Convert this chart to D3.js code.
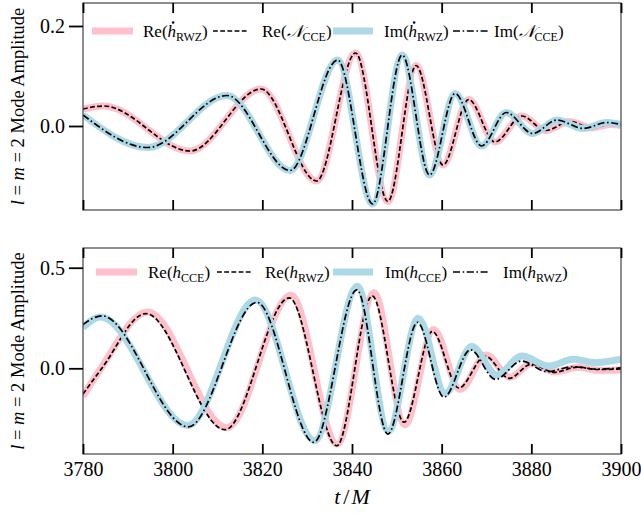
<!DOCTYPE html>
<html>
<head>
<meta charset="utf-8">
<script src="https://cdn.jsdelivr.net/npm/d3@7"></script>
<style>
  body { margin: 0; background: #fff; }
  svg text { font-family: "Liberation Serif", "DejaVu Serif", serif; fill: #000; }
</style>
</head>
<body>
<div id="chart"></div>
<script>
const w = 641;
const h = 514;
const left = 83, right = 621;

const xTicks = [3780, 3800, 3820, 3840, 3860, 3880, 3900];
const topYTicks = [0.0, 0.2];
const bottomYTicks = [0.0, 0.5];

// top panel, [t/M, amplitude]
const reHdotRWZ = [
  [3780, 0.034], [3784.6, 0.040], [3803.9, -0.050], [3819.7, 0.074],
  [3832.1, -0.110], [3840.8, 0.146], [3848.0, -0.151], [3854.3, 0.121],
  [3860.3, -0.078], [3866.0, 0.053], [3871.9, -0.032], [3877.9, 0.020],
  [3883.2, -0.009], [3888.6, 0.009], [3893.5, -0.004], [3897.5, 0.003],
  [3900, 0.001]
];
const reNewsCCE = [
  [3780, 0.034], [3784.6, 0.040], [3803.9, -0.050], [3819.7, 0.074],
  [3832.1, -0.110], [3840.8, 0.146], [3848.0, -0.151], [3854.3, 0.121],
  [3860.3, -0.078], [3866.0, 0.053], [3871.9, -0.032], [3877.9, 0.020],
  [3883.2, -0.009], [3888.6, 0.009], [3893.5, -0.004], [3897.5, 0.003],
  [3900, 0.001]
];
const imHdotRWZ = [
  [3780, 0.022], [3794.5, -0.043], [3812.1, 0.061], [3826.2, -0.089],
  [3836.8, 0.132], [3844.6, -0.156], [3851.2, 0.142], [3857.3, -0.098],
  [3863.0, 0.065], [3868.9, -0.040], [3874.4, 0.027], [3880.3, -0.015],
  [3885.7, 0.012], [3891.6, -0.005], [3896.8, 0.007], [3900, 0.003]
];
const imNewsCCE = [
  [3780, 0.022], [3794.5, -0.043], [3812.1, 0.061], [3826.2, -0.089],
  [3836.8, 0.132], [3844.6, -0.156], [3851.2, 0.142], [3857.3, -0.098],
  [3863.0, 0.065], [3868.9, -0.040], [3874.4, 0.027], [3880.3, -0.015],
  [3885.7, 0.012], [3891.6, -0.005], [3896.8, 0.007], [3900, 0.003]
];

// bottom panel
const reHCCE = [
  [3780, -0.140], [3784.0, 0.0], [3794.4, 0.280], [3812.1, -0.295],
  [3826.4, 0.363], [3836.7, -0.377], [3844.9, 0.375], [3851.8, -0.280],
  [3858.2, 0.193], [3864.1, -0.105], [3869.9, 0.066], [3875.3, -0.045],
  [3880.1, 0.025], [3885.3, -0.018], [3890.5, 0.005], [3895.0, -0.010],
  [3900, -0.008]
];
const reHRWZ = [
  [3780, -0.128], [3784.2, 0.0], [3794.0, 0.272], [3811.7, -0.305],
  [3826.0, 0.350], [3836.6, -0.385], [3844.5, 0.360], [3851.6, -0.268],
  [3857.9, 0.184], [3863.8, -0.098], [3869.7, 0.060], [3875.1, -0.050],
  [3880.0, 0.021], [3885.1, -0.020], [3890.3, 0.006], [3895.0, -0.006],
  [3900, -0.003]
];
const imHCCE = [
  [3780, 0.203], [3783.9, 0.255], [3803.4, -0.284], [3818.5, 0.339],
  [3831.7, -0.360], [3841.2, 0.408], [3848.1, -0.313], [3854.8, 0.249],
  [3860.8, -0.124], [3866.7, 0.108], [3872.3, -0.033], [3877.9, 0.061],
  [3883.8, 0.011], [3889.4, 0.045], [3894.2, 0.028], [3900, 0.045]
];
const imHRWZ = [
  [3780, 0.218], [3784.2, 0.261], [3803.5, -0.291], [3818.8, 0.328],
  [3831.5, -0.368], [3841.1, 0.390], [3848.0, -0.327], [3854.6, 0.228],
  [3860.5, -0.144], [3866.4, 0.092], [3872.0, -0.055], [3877.8, 0.036],
  [3883.5, -0.017], [3889.2, 0.008], [3894.5, -0.004], [3900, 0.002]
];

const styles = {
  reBand: { stroke: "#ffc0cb", width: 7, dash: null },
  reLine: { stroke: "#000", width: 1.7, dash: "4.8,2.4" },
  imBand: { stroke: "#add8e6", width: 7, dash: null },
  imLine: { stroke: "#000", width: 1.7, dash: "7,2.6,1.6,2.6" }
};

// label = [prefix, symbol, subscript, suffix, dotted?]
const panels = [
  {
    top: 3, bottom: 210, yDomain: [-0.168, 0.246], yTicks: topYTicks, showX: false,
    series: [
      { data: reHdotRWZ, style: styles.reBand, label: ["Re(", "h", "RWZ", ")", true], hx: [92, 133], tx: 143 },
      { data: reNewsCCE, style: styles.reLine, label: ["Re(", "𝒩", "CCE", ")", false], hx: [213, 249], tx: 262 },
      { data: imHdotRWZ, style: styles.imBand, label: ["Im(", "h", "RWZ", ")", true], hx: [333, 373], tx: 384 },
      { data: imNewsCCE, style: styles.imLine, label: ["Im(", "𝒩", "CCE", ")", false], hx: [453, 489], tx: 494 }
    ],
    legendY: 31
  },
  {
    top: 248, bottom: 454, yDomain: [-0.426, 0.598], yTicks: bottomYTicks, showX: true,
    series: [
      { data: reHCCE, style: styles.reBand, label: ["Re(", "h", "CCE", ")", false], hx: [96, 137], tx: 148 },
      { data: reHRWZ, style: styles.reLine, label: ["Re(", "h", "RWZ", ")", false], hx: [217, 251], tx: 265 },
      { data: imHCCE, style: styles.imBand, label: ["Im(", "h", "CCE", ")", false], hx: [333, 373], tx: 385 },
      { data: imHRWZ, style: styles.imLine, label: ["Im(", "h", "RWZ", ")", false], hx: [453, 489], tx: 503 }
    ],
    legendY: 272
  }
];

const svg = d3.select("#chart").append("svg")
  .attr("width", w)
  .attr("height", h);

const xScale = d3.scaleLinear().domain([3780, 3900]).range([left, right]);

panels.forEach((p, i) => {
  const yScale = d3.scaleLinear().domain(p.yDomain).range([p.bottom, p.top]);

  svg.append("clipPath").attr("id", "clip" + i)
    .append("rect")
    .attr("x", left).attr("y", p.top)
    .attr("width", right - left).attr("height", p.bottom - p.top);

  const line = d3.line()
    .x(d => xScale(d[0]))
    .y(d => yScale(d[1]))
    .curve(d3.curveMonotoneX);

  const g = svg.append("g").attr("clip-path", `url(#clip${i})`);
  p.series.forEach(s => {
    g.append("path")
      .datum(s.data)
      .attr("d", line)
      .attr("fill", "none")
      .attr("stroke", s.style.stroke)
      .attr("stroke-width", s.style.width)
      .attr("stroke-dasharray", s.style.dash)
      .attr("stroke-linejoin", "round");
  });

  // frame
  svg.append("rect")
    .attr("x", left).attr("y", p.top)
    .attr("width", right - left).attr("height", p.bottom - p.top)
    .attr("fill", "none")
    .attr("stroke", "#444")
    .attr("stroke-width", 1.2);

  // axes
  const yAxis = d3.axisLeft(yScale)
    .tickValues(p.yTicks)
    .tickSizeInner(14).tickSizeOuter(0)
    .tickPadding(4)
    .tickFormat(d3.format(".1f"));
  const xBottom = d3.axisBottom(xScale)
    .tickValues(xTicks)
    .tickSizeInner(-10).tickSizeOuter(0)
    .tickPadding(8)
    .tickFormat(p.showX ? d3.format("d") : "");
  const xTop = d3.axisTop(xScale)
    .tickValues(xTicks)
    .tickSizeInner(-10).tickSizeOuter(0)
    .tickFormat("");

  const gy = svg.append("g").attr("transform", `translate(${left},0)`).call(yAxis);
  const gxb = svg.append("g").attr("transform", `translate(0,${p.bottom})`).call(xBottom);
  const gxt = svg.append("g").attr("transform", `translate(0,${p.top})`).call(xTop);
  [gy, gxb, gxt].forEach(a => {
    a.select(".domain").remove();
    a.selectAll(".tick line").attr("stroke", "#000").attr("stroke-width", 1.8);
    a.selectAll(".tick text")
      .style("font-family", '"Liberation Serif", "DejaVu Serif", serif')
      .style("font-size", "20px")
      .attr("fill", "#000");
  });

  // y label
  const yl = svg.append("text")
    .attr("transform", `translate(24,${(p.top + p.bottom) / 2}) rotate(-90)`)
    .attr("text-anchor", "middle")
    .style("font-size", "18.5px");
  yl.append("tspan").style("font-style", "italic").text("l");
  yl.append("tspan").text(" = ");
  yl.append("tspan").style("font-style", "italic").text("m");
  yl.append("tspan").text(" = 2 Mode Amplitude");

  // legend
  const lg = svg.append("g");
  p.series.forEach(s => {
    lg.append("line")
      .attr("x1", s.hx[0]).attr("x2", s.hx[1])
      .attr("y1", p.legendY).attr("y2", p.legendY)
      .attr("stroke", s.style.stroke)
      .attr("stroke-width", s.style.width)
      .attr("stroke-dasharray", s.style.dash);
    const t = lg.append("text")
      .attr("x", s.tx).attr("y", p.legendY + 6)
      .style("font-size", "17px");
    t.append("tspan").text(s.label[0]);
    t.append("tspan").style("font-style", "italic").text(s.label[1]);
    t.append("tspan").attr("dy", 4).style("font-size", "12px").text(s.label[2]);
    t.append("tspan").attr("dy", -4).text(s.label[3]);
    if (s.label[4]) {
      // time-derivative dot over h
      const hx = t.node().getStartPositionOfChar(s.label[0].length).x;
      lg.append("circle")
        .attr("cx", hx + 5.6)
        .attr("cy", p.legendY + 6 - 14.5)
        .attr("r", 1.25)
        .attr("fill", "#000");
    }
  });
});

// x label
const xl = svg.append("text")
  .attr("x", (left + right) / 2).attr("y", 504)
  .attr("text-anchor", "middle")
  .style("font-size", "22px");
xl.append("tspan").style("font-style", "italic").text("t");
xl.append("tspan").attr("dx", 3).text("/");
xl.append("tspan").attr("dx", 2).style("font-style", "italic").text("M");
</script>
</body>
</html>
